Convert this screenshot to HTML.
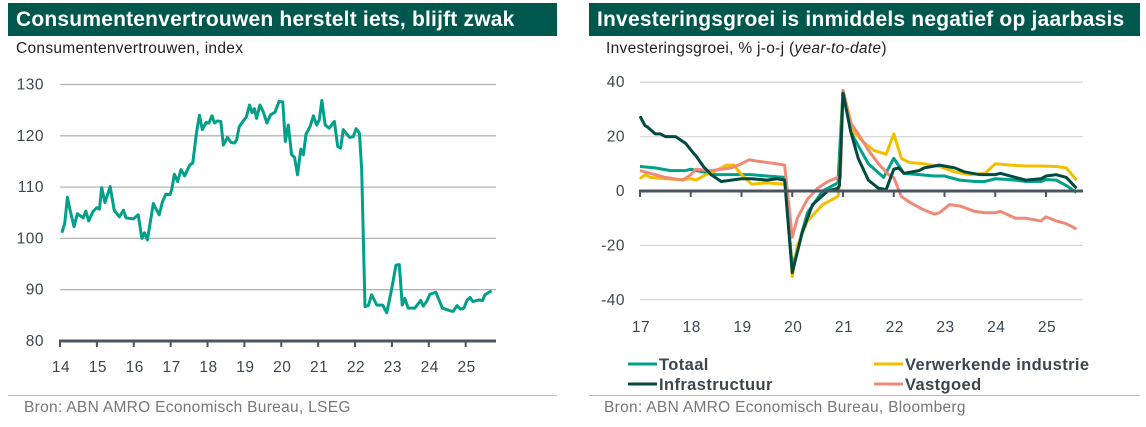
<!DOCTYPE html>
<html><head><meta charset="utf-8"><style>
body{margin:0;width:1146px;height:427px;background:#fff;font-family:"Liberation Sans",sans-serif;overflow:hidden;position:relative}
.hdr{position:absolute;top:3px;height:33px;background:#00574e;color:#fff;font-weight:bold;font-size:21px;line-height:33px;padding-left:8px;box-sizing:border-box;white-space:nowrap;letter-spacing:0.2px}
.sub{position:absolute;top:40px;font-size:15.5px;color:#222;letter-spacing:0.3px}
.src{position:absolute;top:399px;font-size:15.5px;color:#777;letter-spacing:0.3px}
.sep{position:absolute;top:395px;height:1px;background:#bbb}
svg{position:absolute;left:0;top:0}
</style></head><body>
<div class="hdr" style="left:8px;width:549px">Consumentenvertrouwen herstelt iets, blijft zwak</div>
<div class="hdr" style="left:589px;width:551px">Investeringsgroei is inmiddels negatief op jaarbasis</div>
<div class="sub" style="left:16px">Consumentenvertrouwen, index</div>
<div class="sub" style="left:606px">Investeringsgroei, % j-o-j (<i>year-to-date</i>)</div>
<div class="sep" style="left:8px;width:549px"></div>
<div class="sep" style="left:589px;width:551px"></div>
<div class="src" style="left:24px">Bron: ABN AMRO Economisch Bureau, LSEG</div>
<div class="src" style="left:604px">Bron: ABN AMRO Economisch Bureau, Bloomberg</div>
<svg id="c" width="1146" height="427"></svg>
<script>
const leftTicksY=[80,90,100,110,120,130];
const leftTicksX=[14,15,16,17,18,19,20,21,22,23,24,25];
const consX=[14.05,14.13,14.2,14.27,14.38,14.47,14.63,14.7,14.78,14.89,15.0,15.07,15.13,15.22,15.36,15.47,15.61,15.72,15.79,15.99,16.12,16.22,16.29,16.37,16.53,16.69,16.78,16.87,16.98,17.03,17.1,17.19,17.28,17.38,17.52,17.6,17.7,17.78,17.86,17.96,18.04,18.12,18.19,18.27,18.36,18.43,18.54,18.64,18.73,18.79,18.86,18.99,19.05,19.14,19.21,19.27,19.33,19.42,19.51,19.61,19.71,19.83,19.94,20.04,20.11,20.19,20.28,20.36,20.44,20.53,20.6,20.67,20.78,20.87,20.96,21.03,21.1,21.19,21.3,21.44,21.53,21.61,21.68,21.85,21.95,22.03,22.12,22.18,22.27,22.36,22.45,22.59,22.75,22.86,22.99,23.11,23.2,23.28,23.35,23.44,23.62,23.78,23.85,23.94,24.03,24.19,24.37,24.62,24.66,24.77,24.86,24.95,25.04,25.12,25.19,25.37,25.46,25.52,25.7];
const consY=[101.1,103,108,105.6,102.3,104.8,104,105.3,103.4,105.2,106,105.7,109.9,107,110.1,105.5,104.2,105.5,104,103.8,104.6,100,101.1,99.7,106.8,104.6,107.2,108.6,108.5,109.5,112.5,111.1,113.4,112.2,114.3,114.7,120.5,124,121.2,122.6,122.5,123.9,122.5,122.9,122.8,118.2,119.7,118.7,118.6,119.2,121.8,123.1,123.6,126,124.5,125.3,123.4,126,124.7,122.5,124.1,124.6,126.7,126.6,118.9,122.1,116.3,115.8,112.4,117.4,116.3,120.3,121.8,123.9,122.1,123.1,126.9,122.1,121.5,122.8,117.9,117.6,121.2,119.7,119.8,121.4,120.5,113.4,86.7,86.9,89,87,87,85.5,90,94.8,94.9,87,88.3,86.4,86.4,87.9,86.8,87.7,89.1,89.5,86.4,85.8,85.8,86.9,86.2,86.4,88,88.5,87.7,88,87.9,89,89.8];

const rightTicksY=[-40,-20,0,20,40];
const rightTicksX=[17,18,19,20,21,22,23,24,25];
const totaalX=[17.0,17.3,17.6,17.9,18.0,18.5,18.8,19.2,19.5,19.85,20.0,20.3,20.6,20.9,21.0,21.2,21.5,21.8,22.0,22.2,22.5,22.8,23.0,23.3,23.6,23.8,24.0,24.3,24.6,24.9,25.0,25.2,25.4,25.6];
const totaalY=[9,8.5,7.5,7.5,8,6,6,6,5.5,5,-28,-8,0,3,37,20,10,5,12,6.5,6,5.5,5.5,4,3.5,3.5,4.5,4.2,3.5,3.5,4.2,4,2,-0.5];
const verwX=[17.0,17.1,17.2,17.5,17.8,18.0,18.1,18.3,18.5,18.7,18.85,19.0,19.2,19.5,19.85,19.88,20.0,20.1,20.3,20.6,20.9,20.92,21.0,21.2,21.4,21.6,21.85,22.0,22.15,22.3,22.6,22.9,23.2,23.5,23.8,24.0,24.3,24.6,24.9,25.2,25.4,25.6];
const verwY=[4.5,6,5,4.5,4.2,4.5,4,6,7.5,9.5,9.5,6,2.5,3,2.5,3,-31.5,-20,-11,-5,-2,0,37,22,18,15,13.5,21,12,10.5,10,9,7,6,6.5,10,9.5,9.2,9.2,9,8.5,4];
const infraX=[17.0,17.1,17.15,17.3,17.4,17.5,17.7,17.9,18.05,18.1,18.25,18.4,18.6,18.8,19.0,19.2,19.5,19.7,19.85,20.0,20.2,20.4,20.7,20.9,20.93,21.0,21.15,21.3,21.5,21.7,21.85,22.0,22.1,22.2,22.5,22.6,22.9,23.2,23.4,23.7,24.0,24.1,24.4,24.6,24.9,25.0,25.2,25.4,25.6];
const infraY=[27.5,24,23.5,21,21,20,20,17.5,14,13,9,6,3.5,4,4.5,4.5,4,4.5,4,-30,-15,-5,0,1,2,36,22,12,4,1,0.5,8,8.5,6.5,7.5,8.5,9.5,8.5,7,6,6,6.5,5,4,4.5,5.5,6,5,1];
const vastX=[17.0,17.3,17.5,17.85,18.0,18.1,18.4,18.6,18.8,19.0,19.15,19.3,19.5,19.7,19.85,20.0,20.1,20.3,20.5,20.7,20.9,20.95,21.0,21.15,21.3,21.5,21.7,21.9,22.0,22.15,22.3,22.6,22.8,22.9,23.1,23.3,23.6,23.8,24.0,24.1,24.4,24.6,24.9,25.0,25.2,25.4,25.6];
const vastY=[7.5,6,5,4,6,8,7.5,8,8.5,10,11.5,11,10.5,10,9.5,-17,-10,-3,1,3.5,5,5,37,25,21,15,10,6,5,-2,-4,-7,-8.5,-8,-5,-5.5,-7.5,-8,-8,-7.5,-10,-10,-11,-9.5,-11,-12,-14];

const svg=document.getElementById('c');const NS='http://www.w3.org/2000/svg';
function mk(t,a){const e=document.createElementNS(NS,t);for(const k in a)e.setAttribute(k,a[k]);svg.appendChild(e);return e;}
const lx=v=>60+(v-14)*36.88, ly=v=>341-(v-80)*5.13;
leftTicksY.forEach(v=>{
 if(v>80){const g=mk('line',{x1:60,x2:496,y1:ly(v),y2:ly(v),stroke:'#b5b5b5','stroke-width':1.3});
 
 }
 const t=mk('text',{x:44,y:ly(v)+5,'text-anchor':'end','font-size':15.5,fill:'#3c4650','letter-spacing':0.5});t.textContent=v;
 
 
});
const la=mk('line',{x1:59,x2:496,y1:341,y2:341,stroke:'#4a5560','stroke-width':3});


leftTicksX.forEach(v=>{
 mk('line',{x1:lx(v),x2:lx(v),y1:341,y2:347,stroke:'#4a5560','stroke-width':2});
 const t=mk('text',{x:lx(v)+1,y:372,'text-anchor':'middle','font-size':15.5,fill:'#3c4650','letter-spacing':0.5});t.textContent=v;
 
 
});
const cl=mk('polyline',{points:consX.map((x,i)=>lx(x)+','+ly(consY[i])).join(' '),fill:'none',stroke:'#00a08a','stroke-width':3,'stroke-linejoin':'round'});


const rx=v=>640+(v-17)*50.75, ry=v=>191-v*2.72;
rightTicksY.forEach(v=>{
 if(v!==0){const g=mk('line',{x1:640,x2:1083,y1:ry(v),y2:ry(v),stroke:'#d8d8d8','stroke-width':1.3});
 
 }
 const t=mk('text',{x:625,y:ry(v)+5,'text-anchor':'end','font-size':15.5,fill:'#3c4650','letter-spacing':0.5});t.textContent=v;
 
 
});
rightTicksX.forEach(v=>{
 const t=mk('text',{x:rx(v)+1,y:332,'text-anchor':'middle','font-size':15.5,fill:'#3c4650','letter-spacing':0.5});t.textContent=v;
 
 
});
function series(xs,ys,col,name){const p=mk('polyline',{points:xs.map((x,i)=>rx(x)+','+ry(ys[i])).join(' '),fill:'none',stroke:col,'stroke-width':3,'stroke-linejoin':'round'});
 
 }
series(totaalX,totaalY,'#00a08a','totaal-line');
series(verwX,verwY,'#f2be00','verwerkende-industrie-line');
series(vastX,vastY,'#f08a78','vastgoed-line');
series(infraX,infraY,'#004a40','infrastructuur-line');
const ra=mk('line',{x1:639,x2:1083,y1:191,y2:191,stroke:'#4a5560','stroke-width':3});


rightTicksX.forEach(v=>{mk('line',{x1:rx(v),x2:rx(v),y1:191,y2:197,stroke:'#4a5560','stroke-width':2});});
const leg=[['Totaal','#00a08a',628,364],['Verwerkende industrie','#f2be00',874,364],['Infrastructuur','#004a40',628,384],['Vastgoed','#f08a78',874,384]];
leg.forEach(l=>{
 mk('line',{x1:l[2],x2:l[2]+29,y1:l[3],y2:l[3],stroke:l[1],'stroke-width':3});
 const t=mk('text',{x:l[2]+31,y:l[3]+6,'font-size':16.5,'font-weight':'bold',fill:'#3c4650','letter-spacing':0.4});t.textContent=l[0];
 
 
});
</script>
</body></html>
